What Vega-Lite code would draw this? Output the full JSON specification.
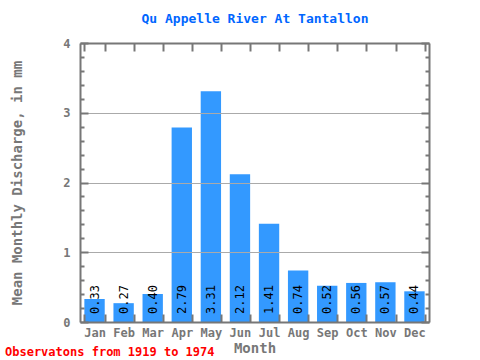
{
  "$schema": "https://vega.github.io/schema/vega-lite/v6.json",
  "autosize": "none",
  "width": 349,
  "height": 279,
  "padding": {"left": 80, "top": 43, "right": 51, "bottom": 38},
  "background": "white",
  "title": {
    "text": "Observatons from 1919 to 1974",
    "orient": "bottom",
    "anchor": "start",
    "frame": "group",
    "dx": -75,
    "offset": -8,
    "color": "#ff0000",
    "font": "DejaVu Sans Mono",
    "fontSize": 12,
    "fontWeight": "bold"
  },
  "config": {
    "view": {"stroke": null},
    "axis": {
      "domainColor": "#777777",
      "domainWidth": 2,
      "tickColor": "#777777",
      "tickWidth": 2,
      "labelColor": "#777777",
      "labelFont": "DejaVu Sans Mono",
      "labelFontSize": 12,
      "labelFontWeight": "bold",
      "titleColor": "#777777",
      "titleFont": "DejaVu Sans Mono",
      "titleFontSize": 14,
      "titleFontWeight": "bold",
      "gridColor": "#aaaaaa",
      "gridWidth": 1
    }
  },
  "data": {
    "values": [
      {"month": "Jan", "value": 0.33},
      {"month": "Feb", "value": 0.27},
      {"month": "Mar", "value": 0.40},
      {"month": "Apr", "value": 2.79},
      {"month": "May", "value": 3.31},
      {"month": "Jun", "value": 2.12},
      {"month": "Jul", "value": 1.41},
      {"month": "Aug", "value": 0.74},
      {"month": "Sep", "value": 0.52},
      {"month": "Oct", "value": 0.56},
      {"month": "Nov", "value": 0.57},
      {"month": "Dec", "value": 0.44}
    ]
  },
  "resolve": {"axis": {"x": "independent", "y": "independent"}},
  "layer": [
    {
      "mark": {"type": "bar", "color": "#3399ff"},
      "encoding": {
        "x": {
          "field": "month",
          "type": "nominal",
          "sort": null,
          "scale": {"paddingInner": 0.3, "paddingOuter": 0.15},
          "axis": {
            "orient": "bottom",
            "title": "Month",
            "titleY": 19,
            "labelAngle": 0,
            "tickBand": "extent",
            "tickSize": -8,
            "labelPadding": 13,
            "zindex": 1
          }
        },
        "y": {
          "field": "value",
          "type": "quantitative",
          "scale": {"domain": [0, 4], "nice": false},
          "axis": {
            "orient": "left",
            "title": "Mean Monthly Discharge, in mm",
            "titleX": -56,
            "values": [0, 0.2, 0.4, 0.6, 0.8, 1, 1.2, 1.4, 1.6, 1.8, 2, 2.2, 2.4, 2.6, 2.8, 3, 3.2, 3.4, 3.6, 3.8, 4],
            "labelExpr": "datum.value % 1 === 0 ? format(datum.value, 'd') : ''",
            "tickSize": {"condition": {"test": "datum.value % 1 === 0", "value": -8}, "value": -4},
            "grid": true,
            "gridOpacity": {"condition": {"test": "datum.value % 1 === 0 && datum.value > 0 && datum.value < 4", "value": 1}, "value": 0},
            "labelPadding": 18,
            "zindex": 1
          }
        }
      }
    },
    {
      "mark": {"type": "text", "angle": 270, "align": "left", "baseline": "middle", "font": "DejaVu Sans Mono", "fontSize": 12, "color": "black"},
      "encoding": {
        "x": {
          "field": "month",
          "type": "nominal",
          "sort": null,
          "axis": {
            "orient": "top",
            "title": "Qu Appelle River At Tantallon",
            "titleColor": "#0066ff",
            "titleFontSize": 13,
            "titlePadding": 17,
            "labels": false,
            "tickBand": "extent",
            "tickSize": -8,
            "zindex": 1
          }
        },
        "y": {"datum": 0, "type": "quantitative",
          "axis": {
            "orient": "right",
            "title": null,
            "labels": false,
            "values": [0, 0.2, 0.4, 0.6, 0.8, 1, 1.2, 1.4, 1.6, 1.8, 2, 2.2, 2.4, 2.6, 2.8, 3, 3.2, 3.4, 3.6, 3.8, 4],
            "tickSize": {"condition": {"test": "datum.value % 1 === 0", "value": -8}, "value": -4},
            "grid": false,
            "zindex": 1
          }
        },
        "yOffset": {"value": -8},
        "text": {"field": "value", "type": "quantitative", "format": ".2f"}
      }
    }
  ]
}
